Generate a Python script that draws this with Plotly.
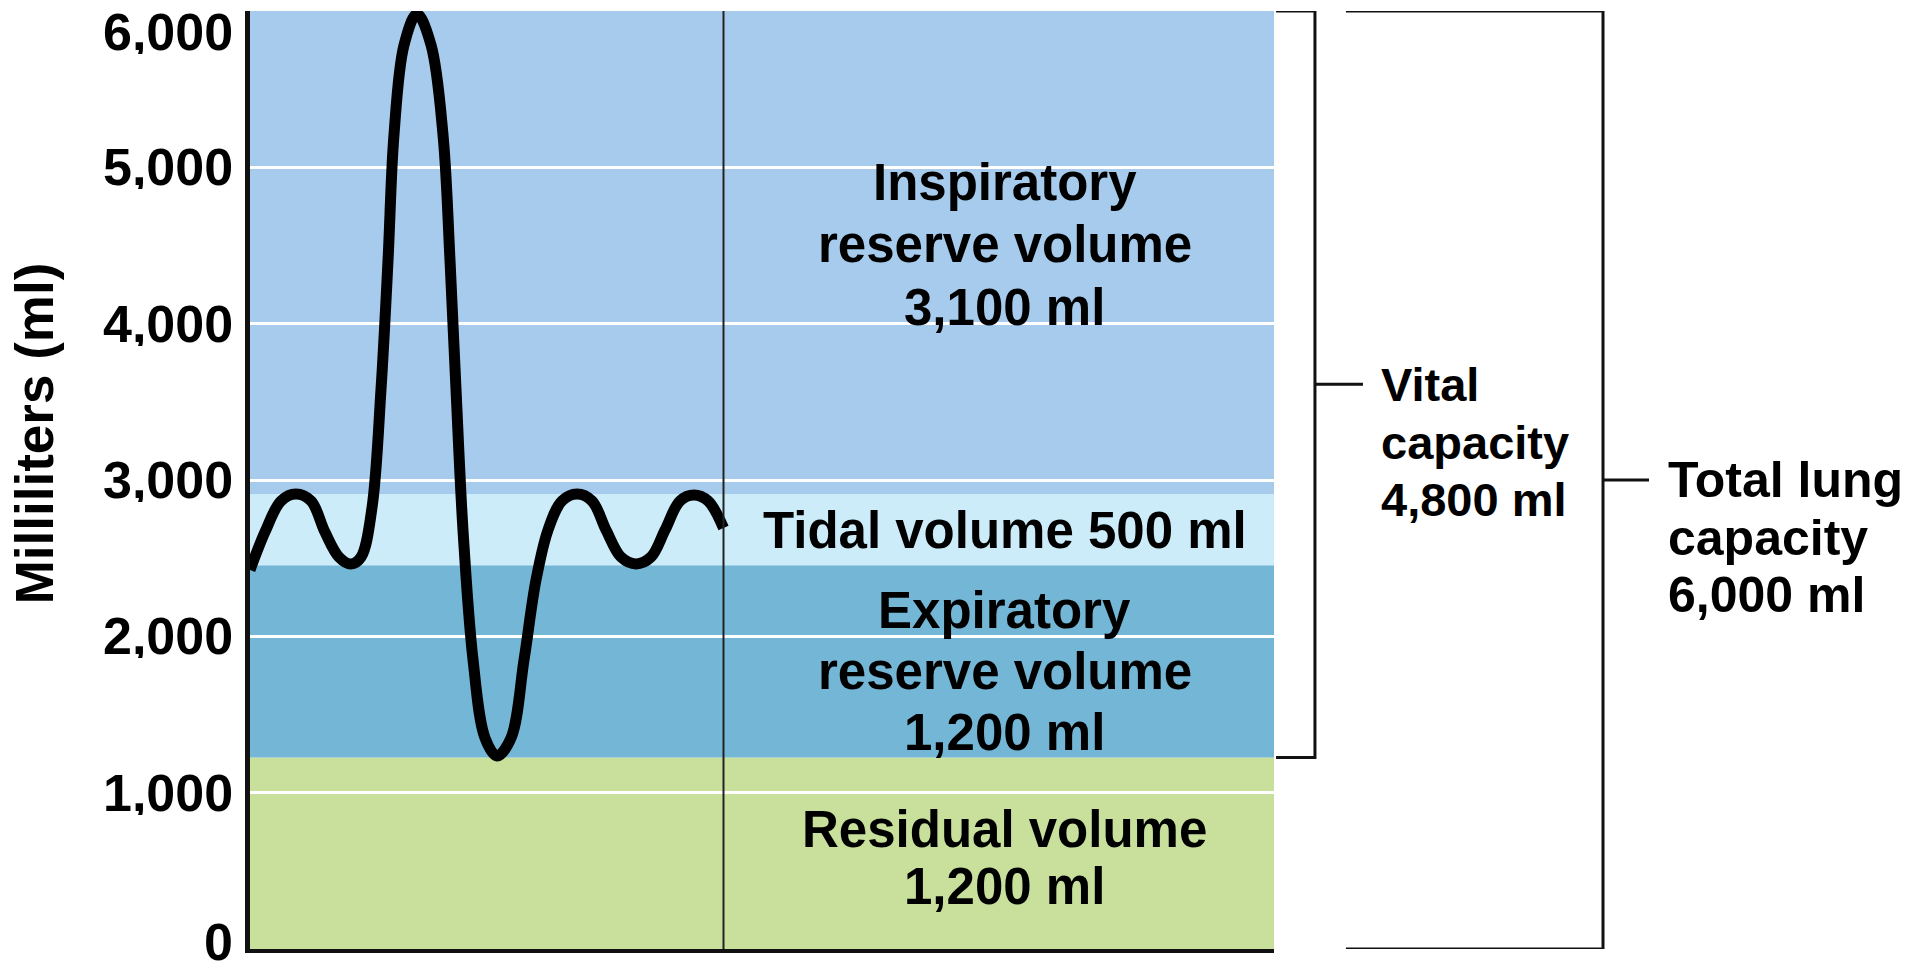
import plotly.graph_objects as go

# ---------------- data ----------------
# spirogram trace (time in arbitrary units, volume in ml)
time_units = [0.00, 1.46, 3.03, 4.49, 5.96, 7.32, 8.69, 9.86, 10.84, 11.91, 12.79, 13.48, 14.06, 15.04,
              16.31, 17.68, 18.85, 19.53, 20.12, 20.80, 21.78, 22.95, 24.12, 25.49, 26.76, 27.93,
              29.10, 30.47, 31.93, 33.40, 34.77, 36.23, 37.70, 39.16, 40.53, 41.99, 43.36, 44.73, 46.24]
volume_ml = [2424, 2667, 2866, 2910, 2866, 2667, 2507, 2463, 2507, 2821, 3576, 4407, 5207, 5782,
             5981, 5782, 5207, 4407, 3576, 2680, 1849, 1350, 1235, 1350, 1849, 2360,
             2680, 2866, 2910, 2866, 2680, 2507, 2463, 2507, 2680, 2866, 2904, 2866, 2693]

# lung volume bands
band_names = ["Residual volume", "Expiratory reserve volume", "Tidal volume", "Inspiratory reserve volume"]
band_bottom_ml = [0, 1225, 2455, 2910]
band_top_ml = [1225, 2455, 2910, 6000]
band_label_lines = [
    ["Residual volume", "1,200 ml"],
    ["Expiratory", "reserve volume", "1,200 ml"],
    ["Tidal volume 500 ml"],
    ["Inspiratory", "reserve volume", "3,100 ml"],
]

# capacities (brackets)
capacity_bottom_ml = [1225, 0]
capacity_top_ml = [6000, 6000]
capacity_label_lines = [
    ["Vital", "capacity", "4,800 ml"],
    ["Total lung", "capacity", "6,000 ml"],
]

# y axis ticks
y_tick_vals = [0, 1000, 2000, 3000, 4000, 5000, 6000]
y_tick_text = ["0", "1,000", "2,000", "3,000", "4,000", "5,000", "6,000"]
y_title = "Milliliters (ml)"
time_max = 100
trace_end = 46.24

# ---------------- styles / layout ----------------
FONT = "Liberation Sans, Arial, Helvetica, sans-serif"
band_colors = ["#C8E09C", "#73B6D5", "#CDECFA", "#A6CBEC"]
label_first_line_ml = [766, 2168, 2680, 4903]   # anchor of first text line
label_line_gap_px = [57, 61, 0, 62.5]
label_x = 73.7

fig = go.Figure()

# bands
for b0, b1, c in zip(band_bottom_ml, band_top_ml, band_colors):
    fig.add_shape(type="rect", xref="x", yref="y", x0=0, x1=time_max, y0=b0, y1=b1,
                  fillcolor=c, line=dict(width=0), layer="below")

# divider line at end of trace
fig.add_shape(type="line", xref="x", yref="y", x0=trace_end, x1=trace_end,
              y0=0, y1=6000, line=dict(color="#222222", width=2), layer="above")

# spirogram
fig.add_trace(go.Scatter(x=time_units, y=volume_ml, mode="lines",
                         line=dict(shape="spline", smoothing=1.0, width=11, color="black"),
                         hoverinfo="skip"))

# band labels
for lines, y0, gap in zip(band_label_lines, label_first_line_ml, label_line_gap_px):
    for i, t in enumerate(lines):
        kw = {}
        if len(lines) > 1:
            kw["height"] = gap - 3
        fig.add_annotation(x=label_x, y=y0, xref="x", yref="y", text=t, showarrow=False,
                           yshift=-i * gap, xanchor="center", yanchor="middle", valign="middle",
                           font=dict(family=FONT, size=51, color="black", weight="bold"), **kw)

# brackets
bracket_geo = [  # (x_left, x_vert, x_tick, text_x, font size) in paper coords
    (1.002, 1.040, 1.0869, 1.1025, 47),
    (1.0703, 1.3213, 1.3662, 1.3828, 50),
]
for (xl, xv, xt, tx, fs), lo, hi, lines in zip(bracket_geo, capacity_bottom_ml, capacity_top_ml, capacity_label_lines):
    fig.add_shape(type="path", xref="paper", yref="y",
                  path=f"M {xl},{hi} L {xv},{hi} L {xv},{lo} L {xl},{lo}",
                  line=dict(color="#111111", width=3))
    mid = (lo + hi) / 2
    fig.add_shape(type="line", xref="paper", yref="y", x0=xv, x1=xt, y0=mid, y1=mid,
                  line=dict(color="#111111", width=3))
    for i, t in enumerate(lines):
        fig.add_annotation(x=tx, y=mid, xref="paper", yref="y", text=t, showarrow=False,
                           yshift=-i * 57.5, xanchor="left", yanchor="middle", valign="middle",
                           height=54,
                           font=dict(family=FONT, size=fs, color="black", weight="bold"))

# y tick labels (end ones nudged to stay on the page)
for v, t in zip(y_tick_vals, y_tick_text):
    shift = 0
    if v == y_tick_vals[-1]:
        shift = -21
    elif v == y_tick_vals[0]:
        shift = 7
    fig.add_annotation(x=-0.01465, y=v, xref="paper", yref="y", text=t,
                       showarrow=False, xanchor="right", yanchor="middle", yshift=shift,
                       height=44, valign="middle",
                       font=dict(family=FONT, size=52, color="black", weight="bold"))

# y axis title
fig.add_annotation(x=-0.2096, y=3301, xref="paper", yref="y", text=y_title, textangle=-90,
                   showarrow=False, xanchor="center", yanchor="middle",
                   font=dict(family=FONT, size=53, color="black", weight="bold"))

fig.update_layout(
    width=1929, height=971,
    margin=dict(l=250, r=655, t=11, b=22),
    paper_bgcolor="white", plot_bgcolor="white",
    showlegend=False,
    xaxis=dict(range=[0, time_max], showticklabels=False, showgrid=False, zeroline=False,
               showline=True, linecolor="#111111", linewidth=4, ticks=""),
    yaxis=dict(range=[0, 6000], tickvals=y_tick_vals[1:-1], showticklabels=False,
               showgrid=True, gridcolor="white", gridwidth=3, zeroline=False,
               showline=True, linecolor="#111111", linewidth=5, ticks=""),
)

fig.write_html("out.html", config={"displayModeBar": False},
               post_script="document.body.style.margin='0';")
